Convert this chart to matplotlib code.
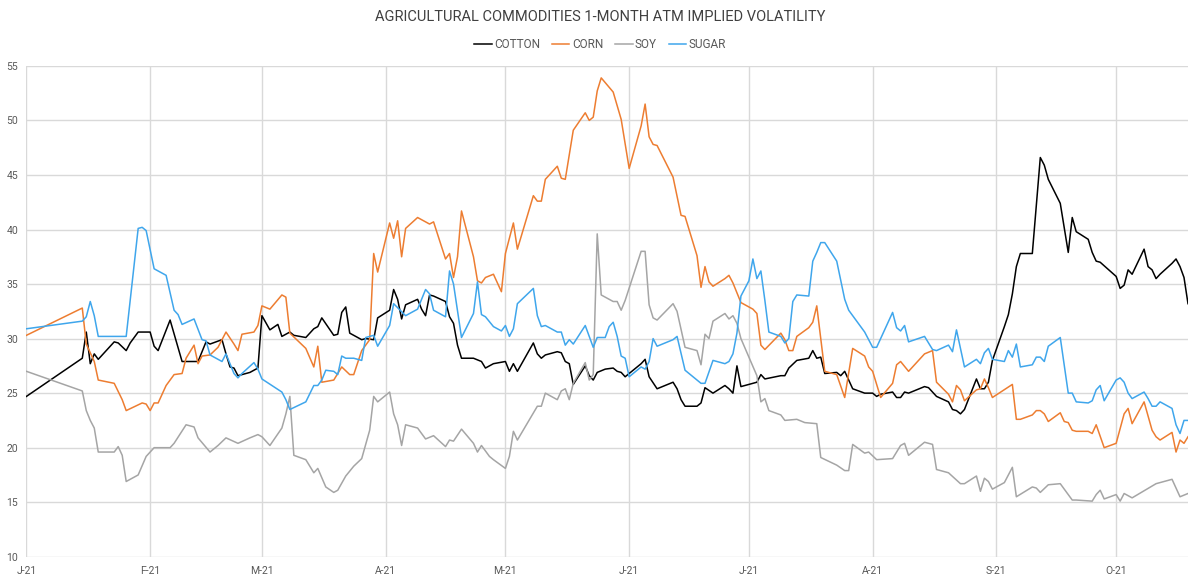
import pandas as pd
import matplotlib
matplotlib.use("Agg")
import matplotlib.pyplot as plt
import matplotlib.dates as mdates

# implied vols, (day of 2021 counted from Jan 1, vol %)
cotton = [(0, 24.7), (14, 28.2), (15, 30.6), (16, 27.7), (17, 28.6), (18, 28.1), (22, 29.7), (23, 29.6),
          (25, 28.9), (26, 29.6), (28, 30.6), (31, 30.6), (32, 29.3), (33, 28.9), (36, 31.7), (39, 27.9),
          (43, 27.9), (45, 29.7), (46, 29.5), (49, 29.9), (50, 28.6), (51, 27.4), (52, 27.3), (53, 26.6),
          (56, 26.9), (58, 27.3), (59, 32.1), (61, 30.8), (63, 31.3), (64, 30.2), (66, 30.6), (67, 30.3),
          (70, 30.1), (72, 30.9), (73, 31.1), (74, 31.9), (77, 30.3), (78, 30.4), (79, 32.4), (80, 32.9),
          (81, 30.5), (84, 29.9), (85, 30.0), (87, 29.9), (88, 31.9), (91, 32.6), (92, 34.5), (93, 33.6),
          (94, 31.8), (95, 33.1), (98, 33.6), (99, 32.7), (100, 32.1), (101, 34.0), (102, 33.9), (105, 33.4),
          (106, 32.0), (107, 31.4), (108, 29.4), (109, 28.2), (112, 28.2), (114, 27.9), (115, 27.3), (117, 27.7),
          (120, 27.9), (121, 27.0), (122, 27.7), (123, 27.0), (127, 29.6), (128, 28.6), (129, 28.2), (130, 28.5),
          (133, 28.8), (134, 28.7), (135, 27.9), (136, 27.7), (137, 25.8), (140, 27.5), (141, 26.6), (142, 26.2),
          (143, 26.9), (145, 27.2), (147, 27.3), (148, 27.0), (149, 26.9), (150, 26.5), (151, 26.8), (154, 27.7),
          (155, 28.1), (156, 26.5), (158, 25.4), (162, 26.0), (163, 25.4), (164, 24.4), (165, 23.8), (168, 23.8),
          (169, 24.1), (170, 25.5), (172, 25.0), (175, 25.7), (176, 25.4), (177, 25.0), (178, 27.5), (179, 25.6),
          (183, 26.0), (184, 26.7), (185, 26.3), (189, 26.6), (190, 26.6), (191, 27.3), (193, 28.0), (196, 28.2),
          (197, 28.9), (198, 28.2), (199, 28.3), (200, 26.8), (203, 26.9), (204, 26.6), (205, 27.0), (207, 25.4),
          (210, 25.0), (212, 25.0), (213, 24.7), (214, 24.9), (217, 25.1), (218, 24.6), (219, 24.6), (220, 25.1),
          (221, 25.0), (225, 25.6), (226, 25.5), (228, 24.7), (231, 24.2), (232, 23.5), (233, 23.4), (234, 23.1),
          (235, 23.5), (238, 26.3), (239, 25.4), (240, 25.4), (241, 26.0), (242, 28.0), (245, 31.1), (246, 32.2),
          (247, 34.1), (248, 36.6), (249, 37.8), (252, 37.8), (254, 46.6), (255, 45.9), (256, 44.6), (259, 42.4),
          (261, 37.9), (262, 41.1), (263, 39.8), (266, 39.1), (267, 37.9), (268, 37.1), (269, 37.0), (273, 35.7),
          (274, 34.6), (275, 34.9), (276, 36.3), (277, 35.9), (280, 38.2), (281, 36.6), (282, 36.3), (283, 35.5),
          (284, 35.9), (287, 36.9), (288, 37.3), (289, 36.6), (290, 35.6), (291, 33.2)]

corn = [(0, 30.3), (14, 32.8), (15, 29.5), (17, 27.9), (18, 26.2), (22, 25.9), (24, 24.4), (25, 23.4),
        (29, 24.1), (30, 24.0), (31, 23.4), (32, 24.1), (33, 24.1), (35, 25.7), (37, 26.7), (39, 26.8),
        (40, 28.2), (42, 29.4), (43, 27.7), (44, 28.4), (46, 28.5), (48, 29.2), (50, 30.6), (52, 29.5),
        (53, 28.9), (54, 30.4), (57, 30.6), (58, 31.2), (59, 33.0), (61, 32.7), (64, 34.0), (65, 33.8),
        (66, 30.5), (70, 29.1), (72, 27.4), (73, 29.3), (74, 26.0), (77, 26.2), (79, 27.4), (81, 26.7),
        (82, 26.7), (84, 28.9), (86, 29.9), (87, 37.8), (88, 36.1), (91, 40.6), (92, 39.2), (93, 40.8),
        (94, 37.5), (95, 40.1), (98, 41.1), (101, 40.5), (102, 40.7), (105, 37.3), (106, 37.8), (107, 35.6),
        (108, 37.5), (109, 41.7), (112, 37.5), (113, 35.3), (114, 35.1), (115, 35.6), (117, 35.9), (119, 34.3),
        (120, 37.8), (122, 40.6), (123, 38.2), (127, 43.1), (128, 42.6), (129, 42.6), (130, 44.6), (133, 45.8),
        (134, 44.7), (135, 44.6), (137, 49.1), (140, 50.7), (141, 50.0), (142, 50.3), (143, 52.7), (144, 53.9),
        (147, 52.6), (149, 50.1), (151, 45.6), (154, 49.5), (155, 51.5), (156, 48.5), (157, 47.8), (158, 47.7),
        (162, 44.8), (164, 41.3), (165, 41.2), (168, 37.6), (169, 34.7), (170, 36.6), (171, 35.2), (172, 34.8),
        (175, 35.5), (176, 35.8), (177, 35.1), (179, 33.3), (182, 32.7), (183, 32.3), (184, 29.4), (185, 29.0),
        (189, 30.5), (190, 29.9), (191, 28.9), (192, 28.9), (193, 30.2), (196, 31.0), (197, 31.5), (198, 33.0),
        (200, 27.0), (203, 26.7), (205, 24.6), (207, 29.1), (210, 28.4), (211, 27.4), (212, 27.0), (214, 24.6),
        (217, 25.9), (218, 27.6), (219, 27.9), (221, 27.0), (225, 28.6), (227, 28.9), (228, 26.0), (231, 24.9),
        (232, 24.2), (233, 25.7), (234, 25.3), (235, 24.3), (238, 25.3), (239, 25.4), (240, 26.3), (241, 25.5),
        (242, 24.6), (247, 25.8), (248, 22.6), (249, 22.6), (252, 23.0), (253, 23.4), (254, 23.4), (255, 23.1),
        (256, 22.4), (259, 23.2), (260, 22.4), (261, 22.3), (262, 21.6), (263, 21.5), (266, 21.5), (267, 21.3),
        (268, 22.1), (270, 20.0), (273, 20.4), (275, 23.1), (276, 23.6), (277, 22.2), (280, 24.2), (282, 21.6),
        (283, 21.0), (284, 20.7), (287, 21.4), (288, 19.6), (289, 20.7), (290, 20.4), (291, 21.0)]

soy = [(0, 27.0), (14, 25.2), (15, 23.4), (16, 22.5), (17, 21.8), (18, 19.6), (22, 19.6), (23, 20.1),
       (24, 19.3), (25, 16.9), (28, 17.5), (30, 19.2), (32, 20.0), (36, 20.0), (37, 20.4), (40, 22.1),
       (42, 21.9), (43, 20.9), (46, 19.6), (48, 20.2), (50, 20.9), (53, 20.4), (56, 20.9), (58, 21.2),
       (59, 21.0), (61, 20.2), (64, 21.8), (65, 23.1), (66, 24.7), (67, 19.3), (70, 18.9), (72, 17.7),
       (73, 18.1), (75, 16.4), (77, 15.9), (78, 16.1), (80, 17.4), (82, 18.3), (84, 19.0), (86, 21.6),
       (87, 24.7), (88, 24.2), (91, 25.1), (92, 23.1), (93, 22.1), (94, 20.2), (95, 22.1), (98, 21.8),
       (100, 20.8), (102, 21.1), (105, 20.1), (106, 20.7), (107, 20.6), (109, 21.7), (112, 20.4), (113, 19.6),
       (114, 20.2), (116, 19.2), (117, 18.9), (120, 18.1), (121, 19.2), (122, 21.5), (123, 20.7), (128, 23.8),
       (129, 23.8), (130, 25.0), (133, 24.4), (134, 25.2), (135, 25.4), (136, 24.4), (137, 25.9), (140, 27.8),
       (141, 26.2), (142, 26.7), (143, 39.6), (144, 34.0), (147, 33.4), (148, 33.4), (149, 32.6), (150, 33.5),
       (154, 38.0), (155, 38.0), (156, 33.1), (157, 31.9), (158, 31.7), (162, 33.2), (163, 32.5), (165, 29.2),
       (168, 28.9), (169, 27.6), (170, 30.4), (171, 30.0), (172, 31.6), (175, 32.3), (176, 31.8), (177, 32.1),
       (178, 31.4), (179, 30.0), (183, 26.6), (184, 24.2), (185, 24.5), (186, 23.4), (189, 23.0), (190, 22.5),
       (193, 22.6), (195, 22.3), (198, 22.2), (199, 19.1), (203, 18.4), (205, 17.9), (206, 17.9), (207, 20.3),
       (210, 19.5), (211, 19.6), (213, 18.9), (217, 19.0), (219, 20.2), (220, 20.4), (221, 19.3), (225, 20.5),
       (227, 20.3), (228, 18.0), (231, 17.7), (234, 16.7), (235, 16.7), (238, 17.4), (239, 16.0), (240, 17.2),
       (241, 16.9), (242, 16.2), (245, 16.8), (247, 18.2), (248, 15.5), (252, 16.4), (253, 16.3), (254, 15.9),
       (256, 16.6), (259, 16.7), (262, 15.2), (263, 15.2), (267, 15.1), (268, 15.7), (269, 16.1), (270, 15.3),
       (273, 15.7), (274, 15.1), (275, 15.8), (277, 15.4), (283, 16.7), (287, 17.1), (289, 15.5), (291, 15.8)]

sugar = [(0, 30.9), (14, 31.6), (15, 32.0), (16, 33.4), (17, 32.1), (18, 30.2), (25, 30.2), (28, 40.1),
         (29, 40.2), (30, 39.9), (32, 36.4), (35, 35.8), (37, 32.6), (38, 32.2), (39, 31.3), (42, 31.8),
         (44, 29.9), (45, 29.8), (46, 28.5), (48, 28.1), (49, 27.9), (50, 28.6), (52, 26.8), (53, 26.4),
         (54, 26.8), (57, 27.8), (58, 27.2), (59, 26.3), (64, 25.1), (65, 24.4), (66, 23.5), (70, 24.2),
         (72, 25.7), (73, 25.7), (74, 26.2), (75, 27.1), (77, 27.0), (78, 26.7), (79, 28.4), (80, 28.2),
         (82, 28.2), (84, 28.0), (85, 30.1), (87, 30.3), (88, 29.3), (91, 31.2), (92, 33.2), (95, 32.1),
         (98, 32.7), (100, 34.5), (101, 34.1), (102, 32.6), (105, 32.0), (106, 36.2), (107, 35.0), (109, 30.1),
         (112, 32.3), (113, 35.2), (114, 32.2), (115, 32.0), (117, 31.1), (119, 30.7), (120, 31.2), (121, 30.2),
         (122, 30.9), (123, 33.2), (127, 34.6), (128, 32.1), (129, 31.1), (130, 31.2), (133, 30.6), (134, 30.6),
         (135, 29.4), (136, 29.9), (137, 29.5), (140, 31.2), (142, 29.2), (143, 30.1), (145, 30.1), (146, 31.1),
         (147, 31.5), (148, 30.2), (149, 28.4), (150, 28.2), (151, 26.5), (154, 27.4), (155, 27.2), (156, 27.9),
         (157, 30.0), (158, 29.3), (162, 29.9), (163, 30.2), (165, 27.1), (168, 26.2), (169, 25.9), (170, 25.9),
         (172, 28.0), (175, 27.7), (176, 27.9), (177, 28.6), (178, 30.5), (179, 33.9), (181, 35.3), (182, 37.3),
         (183, 35.5), (184, 36.2), (185, 33.5), (186, 30.6), (189, 30.2), (190, 29.6), (191, 30.0), (192, 33.4),
         (193, 34.0), (196, 33.9), (197, 37.1), (198, 37.9), (199, 38.8), (200, 38.8), (203, 37.1), (205, 33.6),
         (206, 32.6), (210, 30.6), (212, 29.2), (213, 29.2), (217, 32.4), (218, 31.0), (219, 30.7), (220, 31.2),
         (221, 29.7), (225, 30.2), (227, 29.0), (228, 28.9), (231, 29.4), (232, 28.8), (233, 30.8), (234, 29.1),
         (235, 27.4), (238, 28.1), (239, 27.7), (240, 28.7), (241, 29.1), (242, 28.1), (245, 27.9), (246, 28.9),
         (247, 28.3), (248, 29.5), (249, 27.4), (252, 27.6), (253, 28.3), (254, 28.3), (255, 27.9), (256, 29.3),
         (259, 30.1), (261, 25.0), (262, 25.0), (263, 24.2), (266, 24.1), (267, 24.3), (268, 25.3), (269, 25.7),
         (270, 24.3), (273, 26.2), (274, 26.4), (275, 26.0), (276, 25.0), (277, 24.5), (280, 25.1), (281, 24.5),
         (282, 23.8), (283, 23.8), (284, 24.2), (287, 23.6), (288, 22.1), (289, 21.3), (290, 22.5), (291, 22.5)]

series_names = ["COTTON", "CORN", "SOY", "SUGAR"]
series_colors = ["#000000", "#ED7D31", "#A5A5A5", "#3FA6EC"]

START = pd.Timestamp("2021-01-01")
END = pd.Timestamp("2021-10-19")


def to_frame(points):
    days, vals = zip(*points)
    dates = START + pd.to_timedelta(list(days), unit="D")
    return pd.Series(vals, index=dates)


def month_label(x, pos):
    d = mdates.num2date(x)
    return d.strftime("%b")[0] + "-21"


plt.rcParams["font.family"] = ["Roboto", "DejaVu Sans"]

fig = plt.figure(figsize=(12, 5.83), dpi=100)
ax = fig.add_axes([0.022, 0.045, 0.968, 0.842])

for pts, name, col in zip([cotton, corn, soy, sugar], series_names, series_colors):
    s = to_frame(pts)
    ax.plot(s.index, s.values, color=col, lw=1.1, label=name)

ax.set_xlim(START, END)
ax.set_ylim(10, 55)
ax.set_yticks(range(10, 56, 5))
ax.xaxis.set_major_locator(mdates.MonthLocator())
ax.xaxis.set_major_formatter(plt.FuncFormatter(month_label))

ax.grid(True, color="#D9D9D9", lw=1)
ax.set_axisbelow(True)
for sp in ax.spines.values():
    sp.set_visible(False)
ax.tick_params(length=0, labelsize=7.5, colors="#595959")
ax.tick_params(axis="x", pad=7)
ax.tick_params(axis="y", pad=6)

fig.text(0.5, 0.971, "AGRICULTURAL COMMODITIES 1-MONTH ATM IMPLIED VOLATILITY",
         ha="center", va="center", fontsize=10.5, color="#404040")
fig.legend(loc="center", bbox_to_anchor=(0.5, 0.923), ncol=4, frameon=False,
           fontsize=8.5, labelcolor="#595959", handlelength=1.5, handletextpad=0.2,
           columnspacing=1.0)

fig.savefig("out.png", dpi=100)
